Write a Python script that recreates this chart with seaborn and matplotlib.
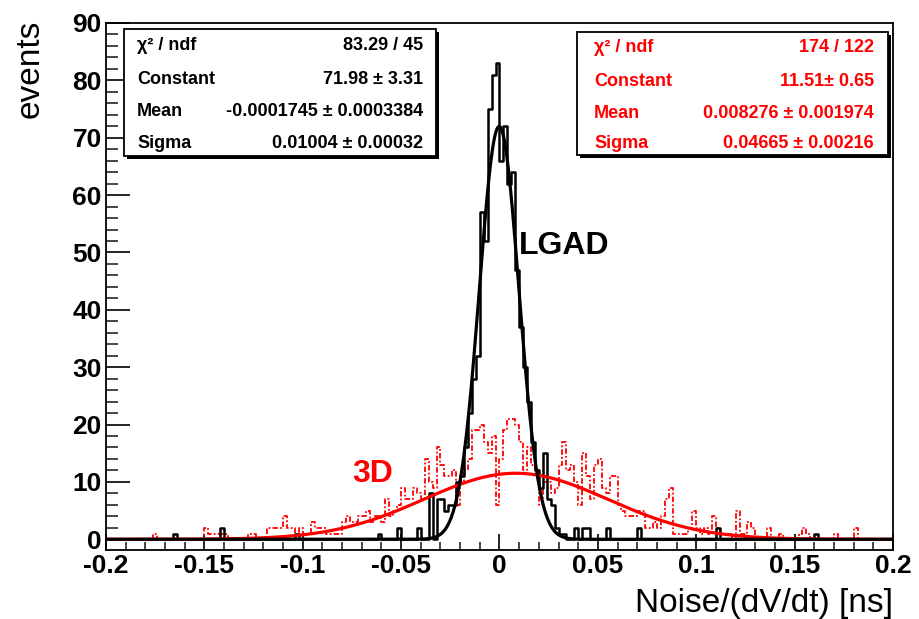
import numpy as np
import pandas as pd
import matplotlib
matplotlib.use("Agg")
import matplotlib.pyplot as plt
import seaborn as sns
from matplotlib.patches import Rectangle
from matplotlib.ticker import MultipleLocator

# ---------------- data ----------------
x_min, x_max, n_bins = -0.2, 0.2, 200

lgad_counts = [
    0, 0, 0, 0, 0, 0, 0, 0, 0, 0, 0, 0, 0, 0, 0, 0, 0, 1, 0, 0,
    0, 0, 0, 0, 0, 0, 0, 0, 0, 2, 0, 0, 0, 0, 0, 0, 0, 0, 0, 0,
    0, 0, 0, 0, 0, 0, 0, 0, 1, 0, 0, 0, 0, 0, 0, 0, 0, 0, 0, 0,
    0, 0, 0, 0, 0, 0, 0, 0, 0, 1, 0, 0, 0, 0, 2, 0, 0, 0, 0, 2,
    0, 0, 8, 0, 7, 7, 5, 6, 6, 10, 11, 16, 22, 28, 32, 57, 52, 75, 81, 83,
    66, 72, 62, 64, 47, 37, 30, 24, 17, 12, 9, 15, 7, 6, 2, 1, 1, 0, 0, 2,
    0, 2, 2, 0, 0, 0, 0, 2, 0, 0, 0, 0, 0, 0, 0, 2, 0, 0, 0, 0,
    0, 0, 0, 0, 0, 0, 0, 0, 0, 0, 0, 0, 0, 0, 0, 2, 0, 0, 0, 0,
    0, 0, 0, 0, 0, 0, 0, 0, 0, 0, 0, 0, 0, 0, 0, 0, 0, 0, 0, 0,
    1, 0, 0, 0, 0, 0, 0, 0, 0, 0, 0, 0, 0, 0, 0, 0, 0, 0, 0, 0,
]

d3_counts = [
    0, 0, 0, 0, 0, 0, 0, 0, 0, 0, 0, 0, 1, 0, 0, 0, 0, 0, 0, 0,
    0, 0, 0, 0, 0, 2, 1, 1, 1, 1, 1, 0, 0, 0, 0, 0, 1, 1, 0, 0,
    0, 2, 2, 2, 2, 4, 2, 2, 1, 2, 1, 1, 3, 2, 2, 2, 1, 1, 1, 1,
    3, 4, 3, 3, 4, 4, 5, 3, 4, 4, 3, 7, 4, 5, 6, 9, 7, 7, 9, 8,
    7, 14, 10, 9, 16, 13, 11, 11, 12, 6, 10, 12, 14, 19, 19, 20, 17, 15, 18, 6,
    14, 19, 21, 21, 20, 17, 12, 16, 13, 12, 6, 10, 10, 8, 9, 13, 17, 12, 13, 10,
    6, 15, 11, 7, 13, 14, 9, 8, 11, 11, 6, 5, 4, 4, 4, 5, 5, 2, 2, 3,
    2, 4, 7, 9, 1, 1, 1, 1, 2, 5, 2, 1, 2, 1, 4, 2, 1, 1, 1, 0,
    5, 1, 1, 3, 2, 0, 0, 0, 2, 0, 0, 1, 0, 0, 0, 0, 1, 2, 1, 0,
    0, 0, 0, 0, 0, 1, 0, 0, 0, 0, 2, 0, 0, 0, 0, 0, 0, 0, 0, 0,
]

lgad_fit_constant, lgad_fit_mean, lgad_fit_sigma = 71.98, -0.0001745, 0.01004
d3_fit_constant, d3_fit_mean, d3_fit_sigma = 11.51, 0.008276, 0.04665

lgad_stat_names = ["χ² / ndf", "Constant", "Mean", "Sigma"]
lgad_stat_values = ["83.29 / 45", "71.98 ± 3.31", "-0.0001745 ± 0.0003384", "0.01004 ± 0.00032"]
d3_stat_names = ["χ² / ndf", "Constant", "Mean", "Sigma"]
d3_stat_values = ["174 / 122", "11.51± 0.65", "0.008276 ± 0.001974", "0.04665 ± 0.00216"]

x_ticks = [-0.2, -0.15, -0.1, -0.05, 0.0, 0.05, 0.1, 0.15, 0.2]
x_tick_labels = ["-0.2", "-0.15", "-0.1", "-0.05", "0", "0.05", "0.1", "0.15", "0.2"]
y_ticks = [0, 10, 20, 30, 40, 50, 60, 70, 80, 90]
y_tick_labels = ["0", "10", "20", "30", "40", "50", "60", "70", "80", "90"]

x_title = "Noise/(dV/dt) [ns]"
y_title = "events"

# ---------------- style ----------------
sns.set_theme(style="white")
plt.rcParams["font.family"] = ["Liberation Sans", "DejaVu Sans"]
plt.rcParams["axes.unicode_minus"] = False

W, H = 920, 619
fig = plt.figure(figsize=(W / 100, H / 100), dpi=100)
fig.patch.set_facecolor("white")

def fx(px):
    return px / W

def fy(py):
    return 1 - py / H

ax = fig.add_axes([fx(106), fy(550), fx(893) - fx(106), fy(23) - fy(550)])
ax.set_facecolor("white")

bin_width = (x_max - x_min) / n_bins
centers = x_min + bin_width * (np.arange(n_bins) + 0.5)
hist_df = pd.DataFrame({"x": centers, "lgad": lgad_counts, "d3": d3_counts})

# 3D histogram (red dash-dot)
sns.histplot(data=hist_df, x="x", weights="d3", binwidth=bin_width, binrange=(x_min, x_max),
             element="step", fill=False, color="red", linewidth=1.3,
             linestyle=(0, (3, 1.2, 1, 1.2)), ax=ax, zorder=2)
# LGAD histogram (black solid)
sns.histplot(data=hist_df, x="x", weights="lgad", binwidth=bin_width, binrange=(x_min, x_max),
             element="step", fill=False, color="black", linewidth=1.8, ax=ax, zorder=3)

xs = np.linspace(x_min, x_max, 801)
lgad_curve = lgad_fit_constant * np.exp(-0.5 * ((xs - lgad_fit_mean) / lgad_fit_sigma) ** 2)
d3_curve = d3_fit_constant * np.exp(-0.5 * ((xs - d3_fit_mean) / d3_fit_sigma) ** 2)
sns.lineplot(x=xs, y=d3_curve, color="red", linewidth=2.3, ax=ax, zorder=4)
sns.lineplot(x=xs, y=lgad_curve, color="black", linewidth=2.3, ax=ax, zorder=5)

ax.set_xlim(x_min, x_max)
ax.set_ylim(-1.87, 90)
ax.set_xlabel("")
ax.set_ylabel("")

ax.set_xticks(x_ticks)
ax.set_xticklabels(x_tick_labels, fontsize=19, fontweight="bold")
ax.set_yticks(y_ticks)
ax.set_yticklabels(y_tick_labels, fontsize=19, fontweight="bold")
ax.xaxis.set_minor_locator(MultipleLocator(0.01))
ax.yaxis.set_minor_locator(MultipleLocator(2))
ax.tick_params(axis="x", which="major", direction="in", length=11.5, width=1.2,
               bottom=True, top=False, pad=3, colors="black")
ax.tick_params(axis="x", which="minor", direction="in", length=5.8, width=1.2,
               bottom=True, top=False)
ax.tick_params(axis="y", which="major", direction="in", length=17, width=1.2,
               left=True, right=False, pad=3, colors="black")
ax.tick_params(axis="y", which="minor", direction="in", length=8.6, width=1.2,
               left=True, right=False)
for sp in ax.spines.values():
    sp.set_color("black")
    sp.set_linewidth(1.3)
    sp.set_visible(True)

# axis titles
fig.text(fx(893), fy(612), x_title, ha="right", va="baseline", fontsize=24, color="black")
fig.text(fx(30), fy(20), y_title, ha="center", va="top", rotation=90, fontsize=24, color="black")

# labels
fig.text(fx(519), fy(254), "LGAD", ha="left", va="baseline", fontsize=23,
         fontweight="bold", color="black")
fig.text(fx(352), fy(482), "3D", ha="left", va="baseline", fontsize=23,
         fontweight="bold", color="red")

# stats boxes
def stats_box(x0, y0, x1, y1, names, values, color, label_x, value_x, rows_y):
    shadow = Rectangle((fx(x0) + 3 / W, fy(y1) - 3 / H), fx(x1) - fx(x0), fy(y0) - fy(y1),
                       transform=fig.transFigure, facecolor="black", edgecolor="black",
                       linewidth=0, zorder=10)
    box = Rectangle((fx(x0), fy(y1)), fx(x1) - fx(x0), fy(y0) - fy(y1),
                    transform=fig.transFigure, facecolor="white", edgecolor="black",
                    linewidth=1.3, zorder=11)
    fig.patches.extend([shadow, box])
    for name, val, ry in zip(names, values, rows_y):
        fig.text(fx(label_x), fy(ry), name, ha="left", va="center", fontsize=13,
                 fontweight="bold", color=color, zorder=12)
        fig.text(fx(value_x), fy(ry), val, ha="right", va="center", fontsize=13,
                 fontweight="bold", color=color, zorder=12)

stats_box(124, 29, 436, 156, lgad_stat_names, lgad_stat_values, "black",
          137, 423, [45, 79, 112, 143])
stats_box(577, 32, 888, 155, d3_stat_names, d3_stat_values, "red",
          594, 874, [48, 82, 113, 143])

fig.savefig("out.png", dpi=100, facecolor="white")
